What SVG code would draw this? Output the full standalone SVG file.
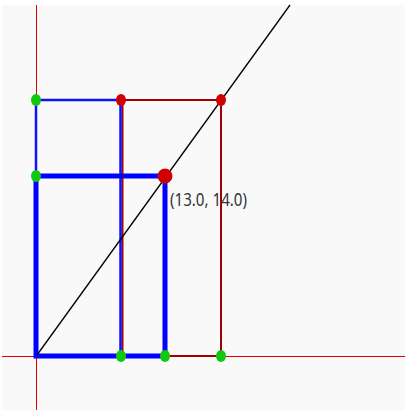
<svg xmlns="http://www.w3.org/2000/svg" width="405" height="410" viewBox="0 0 405 410">
<style>
.axis{stroke:#e00000;stroke-width:1;fill:none}
.thin{stroke:#1010ff;stroke-width:2.5;fill:none}
.thick{stroke:#0000ff;stroke-width:5;fill:none;stroke-linecap:square}
.dred{stroke:#a00000;stroke-width:2;fill:none}
.diag{stroke:#000;stroke-width:1.3;fill:none}
.g{fill:#10c810}
.r{fill:#d00000}
.lbl{font-family:"Noto Sans","DejaVu Sans",sans-serif;font-size:18.5px;fill:#333}
</style>
<rect x="0" y="0" width="405" height="410" fill="#ffffff"/>
<rect x="2" y="5" width="403" height="405" fill="#f9f9f9"/>
<g id="axes">
<line class="axis" x1="36.5" y1="5" x2="36.5" y2="410"/>
<line class="axis" x1="2" y1="356.5" x2="405" y2="356.5"/>
</g>
<g id="connectors">
<line class="dred" x1="121" y1="100" x2="221" y2="100"/>
<line class="dred" x1="221" y1="100" x2="221" y2="356"/>
<line class="dred" x1="165" y1="356" x2="221" y2="356"/>
<line class="dred" x1="122.5" y1="100" x2="122.5" y2="356"/>
<line class="thin" x1="36" y1="100" x2="121" y2="100"/>
<line class="thin" x1="36" y1="100" x2="36" y2="176"/>
<line class="thin" x1="120.5" y1="100" x2="120.5" y2="356"/>
<path class="thick" d="M36,176 H165 V356 H36 Z"/>
<line class="diag" x1="37" y1="355" x2="290" y2="5"/>
</g>
<g id="p1"><ellipse class="g" cx="36" cy="100" rx="5" ry="6"/></g>
<g id="p2"><ellipse class="g" cx="36" cy="176" rx="5" ry="6"/></g>
<g id="p3"><ellipse class="r" cx="121" cy="100" rx="5" ry="6"/></g>
<g id="p4"><ellipse class="r" cx="221" cy="100" rx="5" ry="6"/></g>
<g id="p5"><ellipse class="g" cx="121" cy="356" rx="5" ry="6"/></g>
<g id="p6"><ellipse class="g" cx="165" cy="356" rx="5" ry="6"/></g>
<g id="p7"><ellipse class="g" cx="221" cy="356" rx="5" ry="6"/></g>
<g id="pmain"><circle class="r" cx="165" cy="176" r="7.5"/>
<text class="lbl" x="170" y="205.5" textLength="77" lengthAdjust="spacingAndGlyphs">(13.0, 14.0)</text></g>
</svg>
